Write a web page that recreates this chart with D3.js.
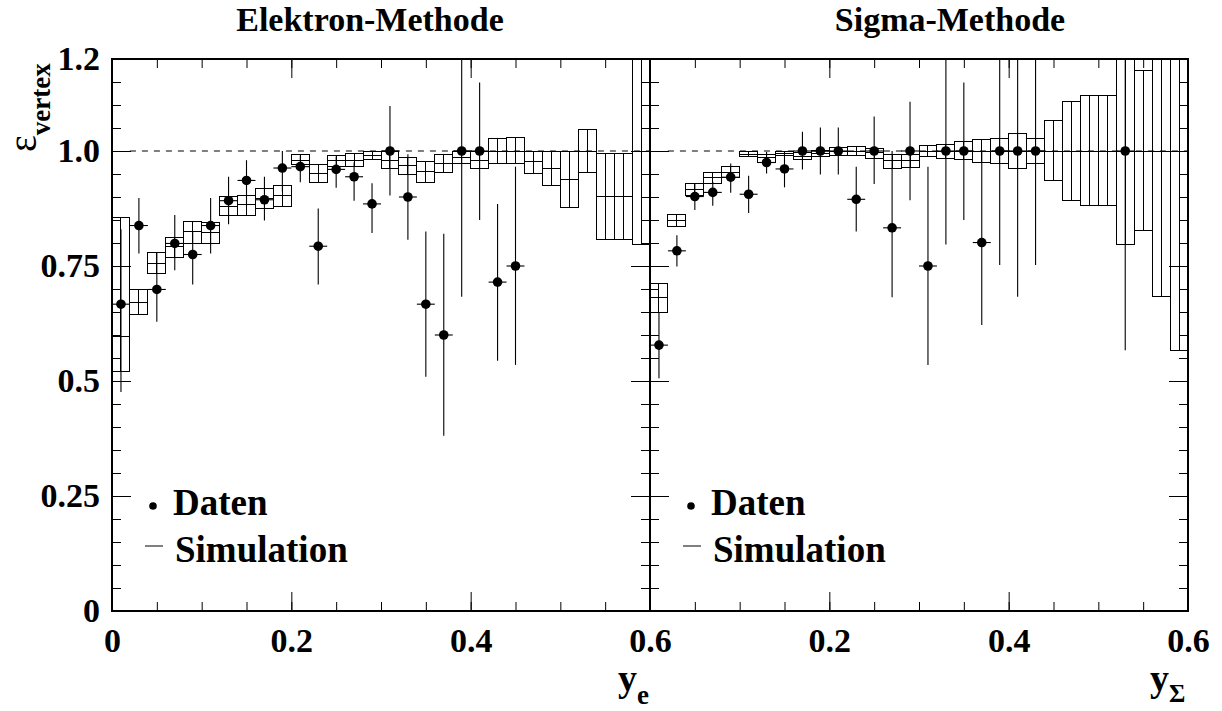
<!DOCTYPE html>
<html>
<head>
  <title>Vertex efficiency</title>
  <script src="https://d3js.org/d3.v7.min.js"></script>
  <style>
    body { margin: 0; background: #fff; }
    text { font-family: "Liberation Serif", "Times New Roman", serif; font-weight: bold; }
  </style>
</head>
<body>
  <svg width="1222" height="711"></svg>

  <script>
    // bin width of both histograms
    const binWidth = 0.02;

    // Elektron-Methode: data points (bin centres, efficiency, error band ends)
    const dataXL = [0.01, 0.03, 0.05, 0.07, 0.09, 0.11, 0.13, 0.15, 0.17, 0.19, 0.21, 0.23,
                    0.25, 0.27, 0.29, 0.31, 0.33, 0.35, 0.37, 0.39, 0.41, 0.43, 0.45];
    const dataVL = [0.667, 0.838, 0.699, 0.799, 0.775, 0.838, 0.892, 0.936, 0.894, 0.963, 0.966, 0.793,
                    0.960, 0.944, 0.885, 1.0, 0.900, 0.667, 0.600, 1.0, 1.0, 0.715, 0.750];
    const dataLoL = [0.476, 0.777, 0.629, 0.741, 0.710, 0.777, 0.841, 0.879, 0.849, 0.912, 0.932, 0.710,
                     0.920, 0.892, 0.822, 0.903, 0.807, 0.509, 0.381, 0.683, 0.850, 0.544, 0.535];
    const dataHiL = [0.830, 0.898, 0.778, 0.861, 0.825, 0.898, 0.944, 0.980, 0.944, 1.0, 0.990, 0.875,
                     0.988, 0.975, 0.930, 1.098, 0.993, 0.825, 0.820, 1.25, 1.149, 0.885, 0.966];

    // Elektron-Methode: simulation per bin (0..0.6, 30 bins)
    const simLoL = [0.520, 0.645, 0.733, 0.769, 0.799, 0.798, 0.859, 0.859, 0.876, 0.880,
                    0.970, 0.932, 0.966, 0.966, 0.981, 0.962, 0.949, 0.932, 0.953, 0.973,
                    0.961, 0.973, 0.972, 0.951, 0.925, 0.878, 0.954, 0.807, 0.807, 0.796];
    const simMidL = [0.596, 0.671, 0.756, 0.792, 0.825, 0.822, 0.879, 0.883, 0.897, 0.903,
                     0.980, 0.951, 0.979, 0.980, 0.990, 0.980, 0.968, 0.955, 0.973, 0.986,
                     0.979, 1.0, 1.0, 0.977, 0.962, 0.938, 1.0, 0.901, 0.901, 1.0];
    const simHiL = [0.856, 0.699, 0.780, 0.812, 0.846, 0.844, 0.901, 0.903, 0.919, 0.926,
                    0.993, 0.970, 0.991, 0.995, 0.999, 0.998, 0.986, 0.977, 0.993, 0.998,
                    0.998, 1.028, 1.029, 1.0, 1.0, 1.0, 1.047, 0.995, 0.995, 1.30];

    // Sigma-Methode: data points
    const dataXR = [0.01, 0.03, 0.05, 0.07, 0.09, 0.11, 0.13, 0.15, 0.17, 0.19, 0.21, 0.23,
                    0.25, 0.27, 0.29, 0.31, 0.33, 0.35, 0.37, 0.39, 0.41, 0.43, 0.53];
    const dataVR = [0.578, 0.783, 0.901, 0.910, 0.943, 0.906, 0.975, 0.961, 1.0, 1.0, 1.0, 0.895,
                    1.0, 0.833, 1.0, 0.750, 1.0, 1.0, 0.801, 1.0, 1.0, 1.0, 1.0];
    const dataLoR = [0.506, 0.749, 0.872, 0.881, 0.909, 0.865, 0.951, 0.921, 0.960, 0.949, 0.949, 0.825,
                     0.928, 0.682, 0.893, 0.535, 0.797, 0.850, 0.622, 0.752, 0.683, 0.752, 0.567];
    const dataHiR = [0.650, 0.817, 0.930, 0.933, 0.973, 0.946, 0.998, 0.998, 1.042, 1.051, 1.051, 0.966,
                     1.075, 1.0, 1.107, 0.966, 1.25, 1.149, 1.0, 1.25, 1.25, 1.25, 1.25];

    // Sigma-Methode: simulation per bin
    const simLoR = [0.649, 0.836, 0.904, 0.930, 0.942, 0.988, 0.975, 0.990, 0.982, 0.988,
                    0.991, 0.990, 0.984, 0.962, 0.964, 0.988, 0.984, 0.982, 0.975, 0.973,
                    0.962, 0.973, 0.935, 0.892, 0.881, 0.881, 0.796, 0.827, 0.683, 0.566];
    const simMidR = [0.681, 0.849, 0.917, 0.942, 0.954, 0.993, 0.986, 0.995, 0.989, 0.995,
                     1.0, 1.0, 0.996, 0.980, 0.980, 1.0, 1.0, 1.0, 1.0, 1.0,
                     1.0, 1.0, 1.0, 1.0, 1.0, 1.0, 1.0, 1.0, 1.0, 1.0];
    const simHiR = [0.712, 0.862, 0.930, 0.954, 0.966, 0.998, 0.993, 1.0, 0.997, 1.001,
                    1.008, 1.009, 1.005, 0.993, 0.993, 1.012, 1.015, 1.020, 1.025, 1.028,
                    1.037, 1.028, 1.066, 1.107, 1.120, 1.120, 1.30, 1.174, 1.30, 1.30];

    // tick values and labels
    const xMinorTicks = d3.range(1, 12).map(i => i * 0.05);
    const xMajorTicks = [0.2, 0.4];
    const yMinorTicks = d3.range(1, 24).map(i => +(i * 0.05).toFixed(2));
    const yMajorTicks = [0.25, 0.5, 0.75, 1.0];
    const yLabelValues = [0, 0.25, 0.5, 0.75, 1.0, 1.2];
    const yLabelText = ["0", "0.25", "0.5", "0.75", "1.0", "1.2"];

    const svg = d3.select("svg");
    const yTop = 59, yBottom = 611;

    const y = d3.scaleLinear().domain([0, 1.2]).range([yBottom, yTop]);
    const xL = d3.scaleLinear().domain([0, 0.6]).range([112, 650]);
    const xR = d3.scaleLinear().domain([0, 0.6]).range([650, 1188]);

    function panel(x, id, sim, data, xLabels, title, titleX) {
      const [x0, x1] = x.range();
      const g = svg.append("g");

      g.append("clipPath").attr("id", id)
        .append("rect").attr("x", x0).attr("y", yTop).attr("width", x1 - x0).attr("height", yBottom - yTop);
      const plot = g.append("g").attr("clip-path", `url(#${id})`);

      // dashed reference line at 1
      plot.append("line")
        .attr("x1", x(0.02)).attr("x2", x(0.6))
        .attr("y1", y(1)).attr("y2", y(1))
        .attr("stroke", "#000").attr("stroke-width", 1)
        .attr("stroke-dasharray", "6,6");

      // simulation boxes
      const bins = sim.lo.map((lo, i) => ({ a: i * binWidth, lo, mid: sim.mid[i], hi: sim.hi[i] }));
      const box = plot.append("g")
        .attr("fill", "none").attr("stroke", "#000").attr("stroke-width", 1)
        .attr("shape-rendering", "crispEdges");
      box.selectAll("rect").data(bins).join("rect")
        .attr("x", d => x(d.a)).attr("width", d => x(d.a + binWidth) - x(d.a))
        .attr("y", d => y(d.hi)).attr("height", d => y(d.lo) - y(d.hi));
      box.selectAll("line.v").data(bins).join("line").attr("class", "v")
        .attr("x1", d => x(d.a + binWidth / 2)).attr("x2", d => x(d.a + binWidth / 2))
        .attr("y1", d => y(d.hi)).attr("y2", d => y(d.lo));
      box.selectAll("line.h").data(bins).join("line").attr("class", "h")
        .attr("x1", d => x(d.a)).attr("x2", d => x(d.a + binWidth))
        .attr("y1", d => y(d.mid)).attr("y2", d => y(d.mid));

      // data points
      const pts = data.x.map((v, i) => ({ x: v, v: data.v[i], lo: data.lo[i], hi: data.hi[i] }));
      const dg = plot.append("g").attr("stroke", "#000").attr("stroke-width", 1.1);
      dg.selectAll("line.ev").data(pts).join("line").attr("class", "ev")
        .attr("x1", d => x(d.x)).attr("x2", d => x(d.x))
        .attr("y1", d => y(d.hi)).attr("y2", d => y(d.lo));
      dg.selectAll("line.eh").data(pts).join("line").attr("class", "eh")
        .attr("x1", d => x(d.x - binWidth / 2)).attr("x2", d => x(d.x + binWidth / 2))
        .attr("y1", d => y(d.v)).attr("y2", d => y(d.v));
      plot.append("g").selectAll("circle").data(pts).join("circle")
        .attr("cx", d => x(d.x)).attr("cy", d => y(d.v)).attr("r", 4.8)
        .attr("fill", "#000");

      // ticks, all pointing inwards
      const tk = (axis, tr) => {
        const a = g.append("g").attr("transform", tr).call(axis);
        a.select(".domain").remove();
        a.selectAll("line").attr("stroke", "#000").attr("stroke-width", 1);
        return a;
      };
      tk(d3.axisBottom(x).tickValues(xMinorTicks).tickSize(-9).tickFormat(""), `translate(0,${yBottom})`);
      tk(d3.axisBottom(x).tickValues(xMajorTicks).tickSize(-19).tickFormat(""), `translate(0,${yBottom})`);
      tk(d3.axisTop(x).tickValues(xMinorTicks).tickSize(-9).tickFormat(""), `translate(0,${yTop})`);
      tk(d3.axisTop(x).tickValues(xMajorTicks).tickSize(-19).tickFormat(""), `translate(0,${yTop})`);
      tk(d3.axisLeft(y).tickValues(yMinorTicks).tickSize(-9).tickFormat(""), `translate(${x0},0)`);
      tk(d3.axisLeft(y).tickValues(yMajorTicks).tickSize(-19).tickFormat(""), `translate(${x0},0)`);
      tk(d3.axisRight(y).tickValues(yMinorTicks).tickSize(-9).tickFormat(""), `translate(${x1},0)`);
      tk(d3.axisRight(y).tickValues(yMajorTicks).tickSize(-19).tickFormat(""), `translate(${x1},0)`);

      // x tick labels
      const xl = g.append("g").attr("transform", `translate(0,${yBottom})`)
        .call(d3.axisBottom(x).tickValues(xLabels).tickSize(0).tickPadding(17)
          .tickFormat(d => d === 0 ? "0" : d3.format(".1f")(d)));
      xl.select(".domain").remove();
      xl.selectAll("text").attr("font-size", 34).attr("fill", "#000")
        .attr("font-family", "Liberation Serif").attr("font-weight", "bold");

      // frame
      g.append("rect").attr("x", x0).attr("y", yTop).attr("width", x1 - x0).attr("height", yBottom - yTop)
        .attr("fill", "none").attr("stroke", "#000").attr("stroke-width", 2);

      // title
      g.append("text").attr("x", titleX).attr("y", 31).attr("text-anchor", "middle")
        .attr("font-size", 34).text(title);

      // legend
      const lx = x0 + 41;
      g.append("circle").attr("cx", lx).attr("cy", 506).attr("r", 3.8).attr("fill", "#000");
      g.append("text").attr("x", lx + 20).attr("y", 515).attr("font-size", 37).text("Daten");
      g.append("line").attr("x1", lx - 8).attr("x2", lx + 10).attr("y1", 546).attr("y2", 546)
        .attr("stroke", "#000").attr("stroke-width", 1);
      g.append("text").attr("x", lx + 22).attr("y", 562).attr("font-size", 37).text("Simulation");
    }

    panel(xL, "clipL", { lo: simLoL, mid: simMidL, hi: simHiL },
      { x: dataXL, v: dataVL, lo: dataLoL, hi: dataHiL }, [0, 0.2, 0.4, 0.6], "Elektron-Methode", 370);
    panel(xR, "clipR", { lo: simLoR, mid: simMidR, hi: simHiR },
      { x: dataXR, v: dataVR, lo: dataLoR, hi: dataHiR }, [0.2, 0.4, 0.6], "Sigma-Methode", 950);

    // y tick labels
    const yl = svg.append("g").attr("transform", "translate(112,0)")
      .call(d3.axisLeft(y).tickValues(yLabelValues).tickSize(0).tickPadding(12)
        .tickFormat((d, i) => yLabelText[i]));
    yl.select(".domain").remove();
    yl.selectAll("text").attr("font-size", 34).attr("fill", "#000")
      .attr("font-family", "Liberation Serif").attr("font-weight", "bold");

    // axis titles
    const yt = svg.append("text").attr("transform", "translate(36,152) rotate(-90)");
    yt.append("tspan").attr("font-size", 40).attr("font-weight", "normal").text("ε");
    yt.append("tspan").attr("font-size", 27).attr("dy", 14).text("vertex");

    const xe = svg.append("text").attr("x", 618).attr("y", 691);
    xe.append("tspan").attr("font-size", 38).text("y");
    xe.append("tspan").attr("font-size", 27).attr("dy", 13).text("e");

    const xs = svg.append("text").attr("x", 1150).attr("y", 691);
    xs.append("tspan").attr("font-size", 38).text("y");
    xs.append("tspan").attr("font-size", 25).attr("dy", 11).text("Σ");
  </script>
</body>
</html>
